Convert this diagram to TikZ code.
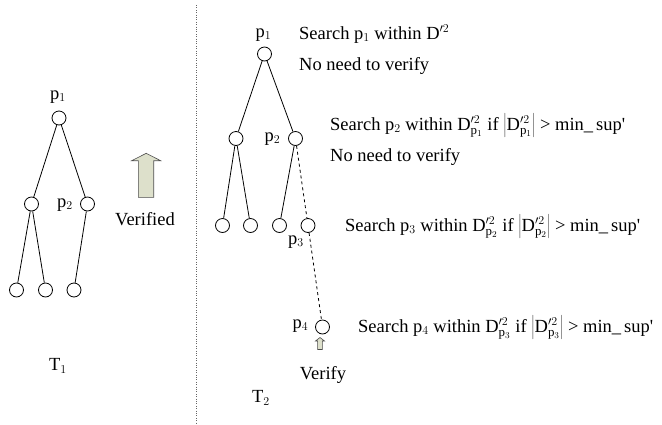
\documentclass[tikz,border=0pt]{standalone}
\usepackage{fontspec}
\setmainfont{Liberation Serif}
\usetikzlibrary{positioning}

\definecolor{arrowfill}{RGB}{221,224,203}
\newcommand{\Dsq}[1]{$\mathrm{D}^{\prime 2}_{\mathrm{p}_{#1}}$}
\newcommand{\Dabs}[1]{$\left|\mathrm{D}^{\prime 2}_{\mathrm{p}_{#1}}\right|$}
\newcommand{\minsup}{min\_\,sup\textquotesingle}

\begin{document}
\begin{tikzpicture}[x=1pt, y=-1pt,
    vtx/.style={circle, draw, line width=0.8pt, minimum size=14pt, inner sep=0pt},
    txt/.style={font=\fontsize{18.5}{21}\selectfont, inner sep=0pt},
    edge/.style={line width=0.8pt},
    dashedge/.style={line width=0.8pt, dashed},
    blockarrow/.style={fill=arrowfill, draw=black!70, line width=0.6pt}]
    \useasboundingbox (0,0) rectangle (662,424);

    % Tree T1
    \node[vtx] (a1) at (59,118) {};
    \node[vtx] (a2) at (31.5,204) {};
    \node[vtx] (a3) at (87.5,204) {};
    \node[vtx] (a4) at (16.5,290) {};
    \node[vtx] (a5) at (45.5,290) {};
    \node[vtx] (a6) at (74,290) {};
    \node[txt] (la1) at (58,97) {p$_1$};
    \node[txt] (la3) at (65,205) {p$_2$};
    \node[txt] (T1) at (58,366) {T$_1$};
    \draw[edge] (a1) -- (a2);
    \draw[edge] (a1) -- (a3);
    \draw[edge] (a2) -- (a4);
    \draw[edge] (a2) -- (a5);
    \draw[edge] (a3) -- (a6);

    % Verified arrow
    \draw[blockarrow] (131.7,160.7) -- (146.2,153.3) -- (160.7,160.7) -- (153.7,160.7)
        -- (153.7,197.3) -- (138.3,197.3) -- (138.3,160.7) -- cycle;
    \node[txt] (verified) at (145,219) {Verified};

    % Separator
    \draw[dotted, black!60] (196,5) -- (196,424);

    % Tree T2
    \node[vtx] (b1) at (264.5,54) {};
    \node[vtx] (b2) at (236,138.5) {};
    \node[vtx] (b3) at (295.5,138.5) {};
    \node[vtx] (b4) at (222.5,225.5) {};
    \node[vtx] (b5) at (250.5,225.5) {};
    \node[vtx] (b6) at (279.5,225.5) {};
    \node[vtx] (b7) at (308,225.5) {};
    \node[vtx] (b8) at (322.5,327) {};
    \node[txt] (lb1) at (263.5,35) {p$_1$};
    \node[txt] (lb3) at (272.5,139) {p$_2$};
    \node[txt] (lb7) at (296,242) {p$_3$};
    \node[txt] (lb8) at (300.5,326) {p$_4$};
    \node[txt] (T2) at (261,398) {T$_2$};
    \draw[edge] (b1) -- (b2);
    \draw[edge] (b1) -- (b3);
    \draw[edge] (b2) -- (b4);
    \draw[edge] (b2) -- (b5);
    \draw[edge] (b3) -- (b6);
    \draw[dashedge] (b3) -- (b7);
    \draw[dashedge] (b7) -- (b8);

    % Verify arrow
    \draw[blockarrow] (315.5,341) -- (320,337.5) -- (324.5,341) -- (322.4,341)
        -- (322.4,349.5) -- (317.6,349.5) -- (317.6,341) -- cycle;
    \node[txt] (verify) at (323,375) {Verify};

    % Search steps
    \node[txt, anchor=base west] (s1) at (299,39) {Search p$_1$ within $\mathrm{D}^{\prime 2}$};
    \node[txt, anchor=base west] (n1) at (299,70) {No need to verify};
    \node[txt, anchor=base west] (s2) at (330,130) {Search p$_2$ within \Dsq{1} if \Dabs{1} > \minsup};
    \node[txt, anchor=base west] (n2) at (330,161) {No need to verify};
    \node[txt, anchor=base west] (s3) at (345,231) {Search p$_3$ within \Dsq{2} if \Dabs{2} > \minsup};
    \node[txt, anchor=base west] (s4) at (358,332) {Search p$_4$ within \Dsq{3} if \Dabs{3} > \minsup};
\end{tikzpicture}
\end{document}
